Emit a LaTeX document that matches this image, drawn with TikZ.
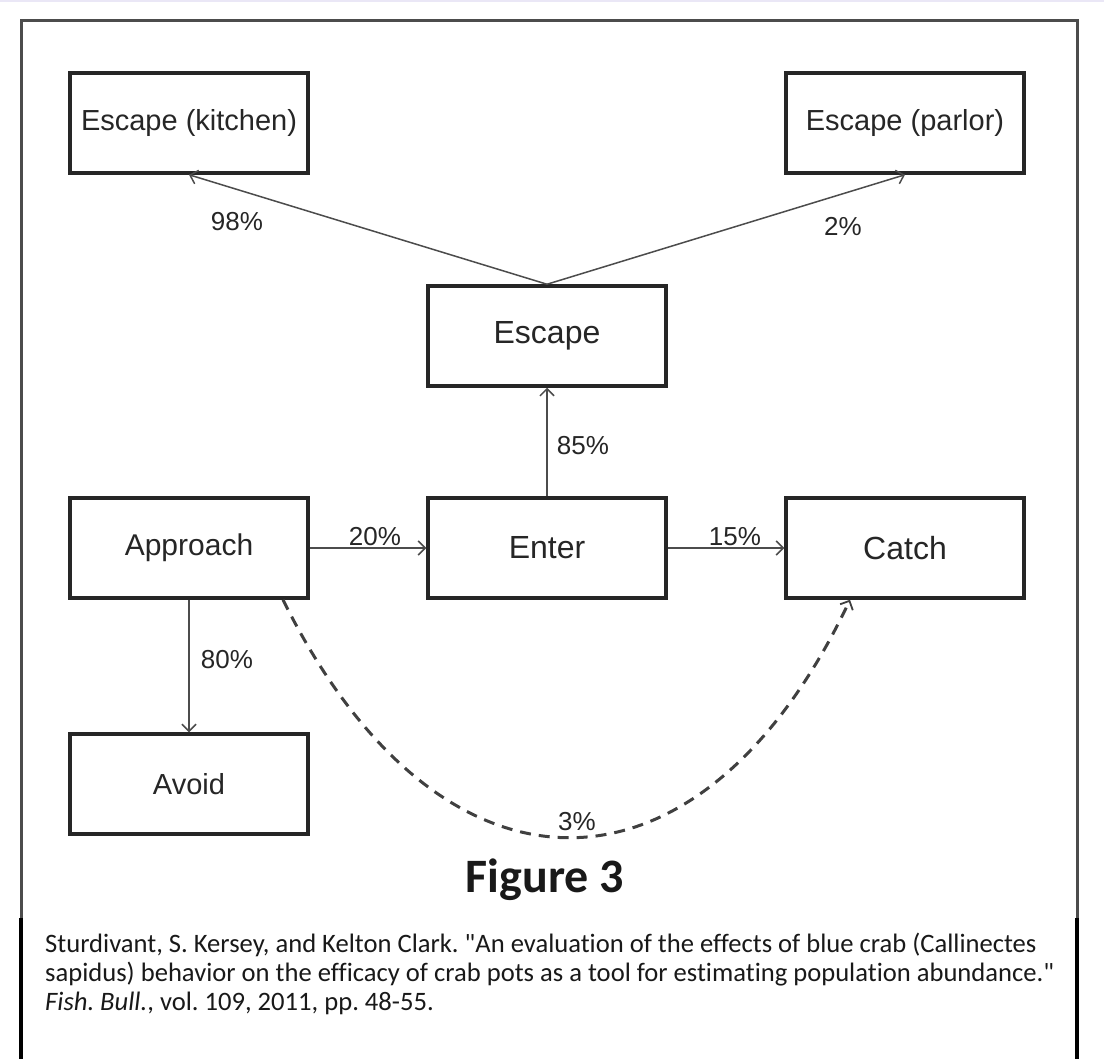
\documentclass[tikz,border=0pt]{standalone}
\usepackage{fontspec}
\setmainfont{Liberation Sans}
\newfontfamily\capfont[Ligatures=NoCommon]{Carlito}
\usetikzlibrary{arrows.meta}
\begin{document}
\frenchspacing
\begin{tikzpicture}[x=1pt,y=-1pt,
  box/.style={draw=black!85,line width=3.5pt,minimum width=238pt,minimum height=100pt,inner sep=0pt,
    font=\fontsize{29}{32}\selectfont,text=black!85},
  bigtext/.style={font=\fontsize{32}{35}\selectfont},
  conn/.style={draw=black!70,line width=1.5pt,-{Straight Barb[length=7pt,width=14pt,line width=1.5pt]}},
  dconn/.style={draw=black!75,line width=3pt,dash pattern=on 11pt off 8pt,
    -{Straight Barb[length=7pt,width=14pt,line width=1.8pt]}},
  pct/.style={font=\fontsize{26}{28}\selectfont,text=black!85,inner sep=0pt},
  capline/.style={anchor=base west,inner sep=0pt,font=\capfont\fontsize{26.6}{29}\selectfont,text=black!90}]
\useasboundingbox (0,0) rectangle (1104,1059);
\fill[white] (0,0) rectangle (1104,1059);
% top light stripe
\fill[cyan!10!blue!8] (0,0) rectangle (1104,2);
% frame
\draw[black!70,line width=3pt] (21,918) -- (21,21) -- (1077,21) -- (1077,918);
\draw[black,line width=3.5pt] (21,918) -- (21,1059);
\draw[black,line width=3.5pt] (1077,918) -- (1077,1059);
% boxes
\node[box] (kitchen) at (189,123) {Escape (kitchen)};
\node[box] (parlor) at (905,123) {Escape (parlor)};
\node[box,bigtext] (escape) at (547,336) {Escape};
\node[box,font=\fontsize{30}{33}\selectfont] (approach) at (189,548) {Approach};
\node[box,bigtext] (enter) at (547,548) {Enter};
\node[box,bigtext] (catch) at (905,548) {Catch};
\node[box] (avoid) at (189,784) {Avoid};
% connectors
\draw[conn] (escape.north) -- (kitchen.south);
\draw[conn] (escape.north) -- (parlor.south);
\draw[conn] (enter.north) -- (escape.south);
\draw[conn] (approach.east) -- (enter.west);
\draw[conn] (enter.east) -- (catch.west);
\draw[conn] (approach.south) -- (avoid.north);
\coordinate (dstart) at ([xshift=94pt]approach.south);
\coordinate (dend) at ([xshift=-55pt]catch.south);
\draw[dconn] (dstart) .. controls +(157,317) and +(-150,317) .. (dend);
% labels
\node[pct] (l98) at (237,222) {98\%};
\node[pct] (l2) at (843,227) {2\%};
\node[pct] (l85) at (583,446) {85\%};
\node[pct] (l20) at (375,537) {20\%};
\node[pct] (l15) at (735,537) {15\%};
\node[pct] (l80) at (227,660) {80\%};
\node[pct] (l3) at (577,822) {3\%};
% title and caption
\node[font=\capfont\bfseries\fontsize{48}{52}\selectfont,text=black!90,inner sep=0pt] (title) at (545,880) {Figure 3};
\node[capline] (c1) at (45,952) {Sturdivant, S. Kersey, and Kelton Clark. "An evaluation of the effects of blue crab (Callinectes};
\node[capline] (c2) at (45,981) {sapidus) behavior on the efficacy of crab pots as a tool for estimating population abundance."};
\node[capline] (c3) at (45,1010) {\textit{Fish. Bull.}, vol. 109, 2011, pp. 48-55.};
\end{tikzpicture}
\end{document}
